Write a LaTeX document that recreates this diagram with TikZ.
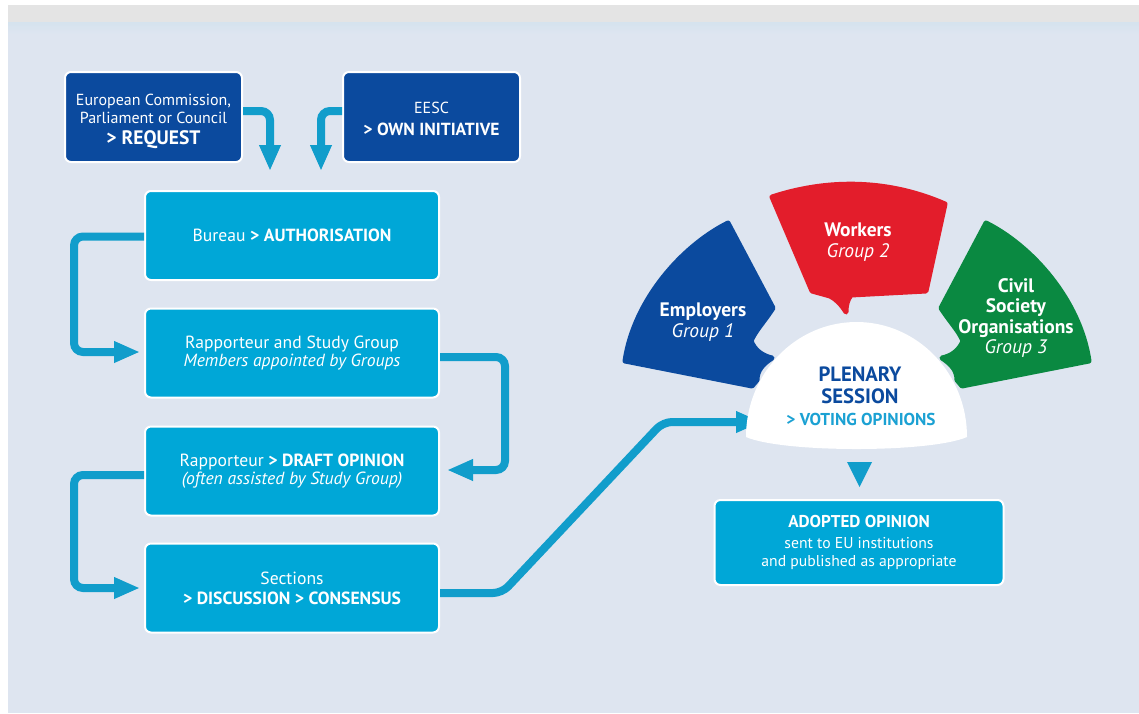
\documentclass[tikz,border=0pt]{standalone}
\usepackage{fontspec}
\setmainfont{PT Sans}
\usetikzlibrary{arrows.meta,calc}

\definecolor{bgblue}{HTML}{DEE5F0}
\definecolor{bgtop}{HTML}{D5E3EE}
\definecolor{topgray}{HTML}{E4E4E4}
\definecolor{navy}{HTML}{0B4A9E}
\definecolor{cyanbox}{HTML}{00A7D7}
\definecolor{linkblue}{HTML}{119DCB}
\definecolor{wred}{HTML}{E31D2B}
\definecolor{cgreen}{HTML}{0A8941}
\definecolor{votecyan}{HTML}{1BA1D3}

% bold text at a given size
\newcommand\bfsz[2]{{\fontsize{#1}{#1}\selectfont\bfseries #2}}

\tikzset{
  box/.style={draw=white, line width=2pt, rounded corners=6pt, align=center,
    text=white, inner sep=0pt, font=\fontsize{17.6}{18}\selectfont},
  navybox/.style={box, fill=navy, minimum width=177pt, minimum height=90pt,
    font=\fontsize{16}{17.5}\selectfont},
  stepbox/.style={box, fill=cyanbox, minimum width=294pt, minimum height=89pt},
  conn/.style={draw=linkblue, line width=8pt, rounded corners=9pt,
    -{Triangle[length=26pt,width=20pt]}},
  bubble/.style={line width=5pt, line join=round},
  bubbletext/.style={text=white, align=center, inner sep=0pt,
    font=\fontsize{19.5}{20.5}\selectfont},
}

\begin{document}
\begin{tikzpicture}[x=1pt,y=-1pt]
\useasboundingbox (0,0) rectangle (1139,713);

% page background
\fill[white] (0,0) rectangle (1139,713);
\fill[topgray] (8,5) rectangle (1139,22);
\fill[bgblue] (8,22) rectangle (1139,713);
\shade[top color=bgtop, bottom color=bgblue] (8,22) rectangle (1139,34);

% input boxes (the strut lowers the three-line block a little)
\node[navybox] (req) at (153.5,117)
  {\rule{0pt}{20pt}European Commission,\\Parliament or Council\\[3.5pt]\bfsz{19.5}{> REQUEST}};
\node[navybox] (own) at (431.5,117)
  {\rule{0pt}{15pt}EESC\\[4pt]\bfsz{17.5}{> OWN INITIATIVE}};

% procedure steps
\node[stepbox] (bureau) at (292,235.5) {Bureau \textbf{> AUTHORISATION}};
\node[stepbox] (study) at (292,353)
  {Rapporteur and Study Group\\\textit{Members appointed by Groups}};
\node[stepbox] (draft) at (292,471)
  {Rapporteur \textbf{> DRAFT OPINION}\\\textit{(often assisted by Study Group)}};
\node[stepbox] (sections) at (292,588)
  {Sections\\[2pt]\textbf{> DISCUSSION > CONSENSUS}};

% outcome
\node[box, fill=cyanbox, minimum width=289pt, minimum height=85pt,
  font=\fontsize{15.7}{18}\selectfont] (adopted) at (859,542.5)
  {\bfsz{17.1}{ADOPTED OPINION}\\[3pt]sent to EU institutions\\and published as appropriate};

% free ends of connectors
\coordinate (reqtip) at (270,171);
\coordinate (owntip) at (321,171);
\coordinate (bend) at (663,422);
\coordinate (domein) at (762,422);

% connectors
\draw[conn] ([yshift=6pt]req.east) -| (reqtip);
\draw[conn] ([yshift=6pt]own.west) -| (owntip);
\draw[conn] ([yshift=-1pt]bureau.west) -- ++(-70,0) |- ([xshift=-4pt,yshift=1pt]study.west);
\draw[conn] ([yshift=-4pt]study.east) -- ++(65,0) |- ([xshift=7pt,yshift=1pt]draft.east);
\draw[conn] ([yshift=-4pt]draft.west) -- ++(-70,0) |- ([xshift=-4pt]sections.west);
\draw[conn] ([yshift=-5pt]sections.east) -- ++(62,0) -- (bend) -- (domein);

% group bubbles: Employers
\filldraw[navy, bubble] (728,223) -- (773,308)
  .. controls (764,322) and (755,331) .. (751,341)
  .. controls (755,351) and (763,356) .. (772,358)
  .. controls (763,364) and (757,370) .. (757,380)
  -- (752,386) -- (625,361)
  .. controls (634,300) and (682,246) .. (728,223) -- cycle;
% Civil Society, the mirror image of the Employers bubble
\begin{scope}[shift={(1714,0)}, xscale=-1]
\filldraw[cgreen, bubble] (728,223) -- (773,308)
  .. controls (764,322) and (755,331) .. (751,341)
  .. controls (755,351) and (763,356) .. (772,358)
  .. controls (763,364) and (757,370) .. (757,380)
  -- (752,386) -- (625,361)
  .. controls (634,300) and (682,246) .. (728,223) -- cycle;
\end{scope}
% Workers
\filldraw[wred, bubble] (772,197)
  .. controls (830,178) and (890,180) .. (945,204)
  -- (926,291) -- (851,295)
  .. controls (847,300) and (846,306) .. (846,312)
  .. controls (841,304) and (836,299) .. (830,296)
  -- (812,291) -- cycle;

\node[bubbletext] (employers) at (703,322) {\textbf{Employers}\\\textit{Group 1}};
\node[bubbletext] (workers) at (858,242) {\textbf{Workers}\\\textit{Group 2}};
\node[bubbletext] (civil) at (1016,318)
  {\textbf{Civil}\\\textbf{Society}\\\textbf{Organisations}\\\textit{Group 3}};

% plenary dome
\fill[white] (746,437) arc[start angle=180, end angle=0, x radius=110.5pt, y radius=115pt]
  .. controls (930,453) and (783,453) .. (746,437) -- cycle;
\node[text=navy, align=center, inner sep=0pt, font=\fontsize{20.7}{22}\selectfont\bfseries]
  (plenary) at (860,385) {PLENARY\\SESSION};
\node[text=votecyan, inner sep=0pt, font=\fontsize{17.2}{17}\selectfont\bfseries]
  (voting) at (861,419) {> VOTING OPINIONS};

% pointer from the plenary to the adopted opinion
\fill[linkblue] (847,462) -- (872,462) -- (859.5,487) -- cycle;

\end{tikzpicture}
\end{document}
